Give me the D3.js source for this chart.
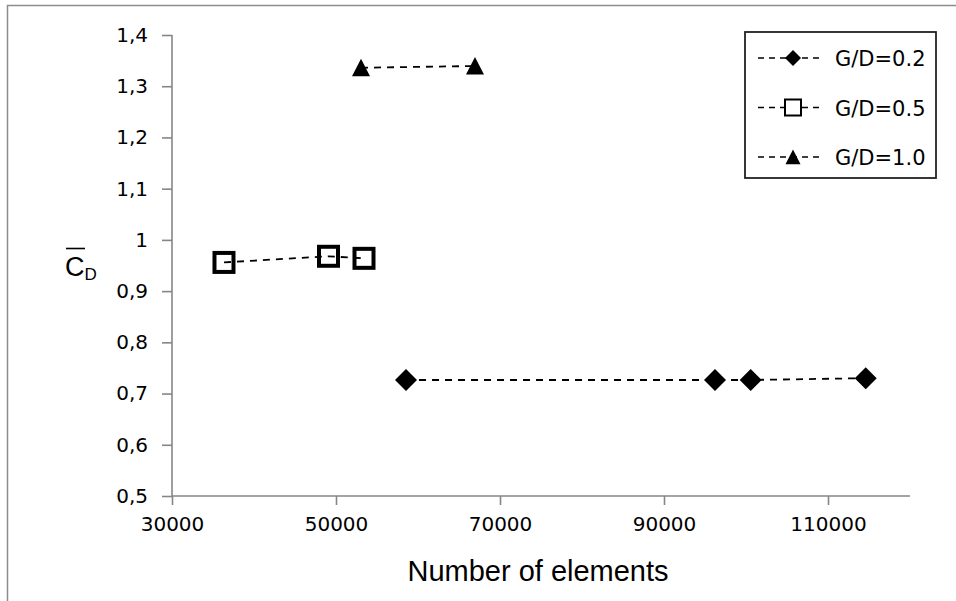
<!DOCTYPE html>
<html lang="en">
<head>
<meta charset="UTF-8">
<title>Mean drag coefficient vs number of elements</title>
<script src="https://d3js.org/d3.v7.min.js"></script>
<style>
  body { margin: 0; background: #fff; }
  text { font-family: 'DejaVu Sans', Verdana, sans-serif; fill: #000; }
</style>
</head>
<body>
<div id="chart"></div>
<script>
// values
var series = ["G/D=0.2", "G/D=0.5", "G/D=1.0"];
var elements02 = [58540, 96220, 100570, 114600];
var cd02 = [0.7265, 0.7265, 0.7265, 0.730];
var elements05 = [36340, 49085, 53415];
var cd05 = [0.956, 0.968, 0.964];
var elements10 = [53050, 66950];
var cd10 = [1.336, 1.3395];
var xTicks = [30000, 50000, 70000, 90000, 110000];
var yTicks = [0.5, 0.6, 0.7, 0.8, 0.9, 1, 1.1, 1.2, 1.3, 1.4];

var W = 956, H = 601;
var svg = d3.select("#chart").append("svg")
  .attr("width", W).attr("height", H);

// outer frame (only top and left edges are in the picture)
svg.append("path")
  .attr("d", "M7.5," + H + "V5.5H" + W)
  .attr("fill", "none").attr("stroke", "#8c8c8c").attr("stroke-width", 1.5);

var x = d3.scaleLinear().domain([30000, 120000]).range([172, 910]);
var y = d3.scaleLinear().domain([0.5, 1.4]).range([496, 35]);

var comma = function(d) { return String(d).replace(".", ","); };

var gx = svg.append("g")
  .attr("transform", "translate(0," + y(0.5) + ")")
  .call(d3.axisBottom(x).tickValues(xTicks).tickSize(9).tickPadding(12)
    .tickFormat(function(d) { return d; }));
var gy = svg.append("g")
  .attr("transform", "translate(" + x(30000) + ",0)")
  .call(d3.axisLeft(y).tickValues(yTicks).tickSize(10).tickPadding(14)
    .tickFormat(comma));

[gx, gy].forEach(function(g) {
  g.select(".domain").attr("stroke", "#868686").attr("stroke-width", 1.6);
  g.selectAll(".tick line").attr("stroke", "#868686").attr("stroke-width", 1.6);
  g.selectAll(".tick text").style("font-size", "20px")
    .style("font-family", "'DejaVu Sans', Verdana, sans-serif").attr("fill", "#000");
});
// axis line ends exactly where the picture ends it
gx.select(".domain").attr("d", "M" + x(30000) + ",0H" + x(120000));
gy.select(".domain").attr("d", "M0," + y(0.5) + "V" + y(1.4));

// axis titles
svg.append("text")
  .attr("x", 538).attr("y", 581)
  .attr("text-anchor", "middle")
  .style("font-family", "'Liberation Sans', Arial, sans-serif")
  .style("font-size", "29px")
  .text("Number of elements");

var cd = svg.append("text").attr("x", 65).attr("y", 276)
  .style("font-family", "'Liberation Sans', Arial, sans-serif")
  .style("font-size", "27px");
cd.append("tspan").text("C");
cd.append("tspan").attr("dy", 4).style("font-size", "17px").text("D");
svg.append("line")
  .attr("x1", 66).attr("x2", 85).attr("y1", 248.5).attr("y2", 248.5)
  .attr("stroke", "#000").attr("stroke-width", 1.6);

// series
var data = [
  { name: series[0], xs: elements02, ys: cd02, shape: "diamond" },
  { name: series[1], xs: elements05, ys: cd05, shape: "square" },
  { name: series[2], xs: elements10, ys: cd10, shape: "triangle" }
];

var line = d3.line().x(function(d) { return x(d[0]); }).y(function(d) { return y(d[1]); });

function marker(g, shape, s) {
  if (shape == "diamond") {
    g.append("path").attr("d", "M0," + (-s) + "L" + s + ",0L0," + s + "L" + (-s) + ",0Z")
      .attr("fill", "#000");
  } else if (shape == "square") {
    g.append("rect").attr("x", -s).attr("y", -s).attr("width", 2 * s).attr("height", 2 * s)
      .attr("fill", "none").attr("stroke", "#000").attr("stroke-width", s > 8 ? 4 : 2);
  } else {
    g.append("path").attr("d", "M0," + (-s) + "L" + s + "," + s * 0.95 + "L" + (-s) + "," + s * 0.95 + "Z")
      .attr("fill", "#000");
  }
}

data.forEach(function(sr) {
  var pts = sr.xs.map(function(v, i) { return [v, sr.ys[i]]; });
  svg.append("path")
    .attr("d", line(pts))
    .attr("fill", "none").attr("stroke", "#000")
    .attr("stroke-width", 1.8).attr("stroke-dasharray", "7,6");
  var size = sr.shape == "diamond" ? 11 : (sr.shape == "square" ? 9.5 : 9);
  pts.forEach(function(p) {
    var g = svg.append("g").attr("transform", "translate(" + x(p[0]) + "," + y(p[1]) + ")");
    marker(g, sr.shape, size);
  });
});

// legend
var legend = svg.append("g");
legend.append("rect")
  .attr("x", 745).attr("y", 32).attr("width", 191).attr("height", 146)
  .attr("fill", "#fff").attr("stroke", "#222").attr("stroke-width", 1.8);

data.forEach(function(sr, i) {
  var ly = 58 + i * 49.5;
  legend.append("line")
    .attr("x1", 758).attr("x2", 822).attr("y1", ly).attr("y2", ly)
    .attr("stroke", "#000").attr("stroke-width", 1.6).attr("stroke-dasharray", "6,5");
  var g = legend.append("g").attr("transform", "translate(793," + ly + ")");
  if (sr.shape == "square") {
    g.append("rect").attr("x", -8).attr("y", -8).attr("width", 16).attr("height", 16).attr("fill", "#fff");
  }
  marker(g, sr.shape, sr.shape == "diamond" ? 8 : (sr.shape == "square" ? 8 : 7.5));
  legend.append("text")
    .attr("x", 835).attr("y", ly + 8)
    .style("font-size", "21px")
    .text(sr.name);
});
</script>
</body>
</html>
